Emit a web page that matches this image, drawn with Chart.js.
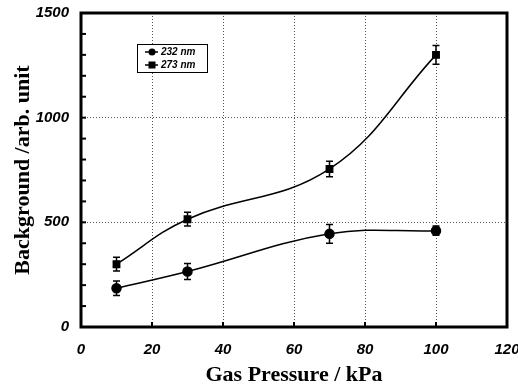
<!DOCTYPE html>
<html lang="en">
<head>
<meta charset="UTF-8">
<title>background vs gas pressure</title>
<script src="https://cdn.jsdelivr.net/npm/chart.js@4/dist/chart.umd.min.js"></script>
<style>
	body{margin:0;background:#fff;}
</style>
</head>
<body>
<canvas id="chart" width="518" height="390"></canvas>
<script>
// values
var pressure=[10,30,70,100];
var bg232=[185,265,445,460];
var err232=[35,38,45,22];
var bg273=[300,515,755,1300];
var err273=[33,33,37,45];
var seriesLabels=["232 nm","273 nm"];
var xTicks=[0,20,40,60,80,100,120];
var yTicks=[0,500,1000,1500];

function pts(ys){
	return pressure.map(function(x,i){ return {x:x,y:ys[i]}; });
}

var tickFont={family:"'Liberation Sans', Arial, sans-serif",size:15,weight:"bold",style:"italic"};
var titleFont={family:"'Liberation Serif', 'Times New Roman', serif",size:22,weight:"bold"};

var decor={
	id:"decor",
	afterDatasetsDraw:function(chart){
		var ctx=chart.ctx, xs=chart.scales.x, ys=chart.scales.y, a=chart.chartArea;
		ctx.save();
		ctx.strokeStyle="#000";
		ctx.lineWidth=1.5;
		// error bars
		[[bg232,err232],[bg273,err273]].forEach(function(s){
			pressure.forEach(function(p,i){
				var px=xs.getPixelForValue(p),
					top=ys.getPixelForValue(s[0][i]+s[1][i]),
					bot=ys.getPixelForValue(s[0][i]-s[1][i]);
				ctx.beginPath();
				ctx.moveTo(px,top);ctx.lineTo(px,bot);
				ctx.moveTo(px-3.5,top);ctx.lineTo(px+3.5,top);
				ctx.moveTo(px-3.5,bot);ctx.lineTo(px+3.5,bot);
				ctx.stroke();
			});
		});
		// inward tick marks
		ctx.lineWidth=2;
		for(var v=100;v<1500;v+=100){
			var y=ys.getPixelForValue(v);
			ctx.beginPath();ctx.moveTo(a.left,y);ctx.lineTo(a.left+5,y);ctx.stroke();
		}
		xTicks.slice(1,-1).forEach(function(v){
			var x=xs.getPixelForValue(v);
			ctx.beginPath();ctx.moveTo(x,a.bottom);ctx.lineTo(x,a.bottom-5);ctx.stroke();
		});
		// frame
		ctx.lineWidth=3;
		ctx.strokeRect(a.left,a.top,a.right-a.left,a.bottom-a.top);
		// legend box
		var lx=a.left+56, ly=a.top+31, lw=70, lh=28;
		ctx.lineWidth=1;
		ctx.fillStyle="#fff";
		ctx.fillRect(lx,ly,lw,lh);
		ctx.strokeRect(lx+0.5,ly+0.5,lw,lh);
		ctx.font="italic bold 10px 'Liberation Sans', Arial, sans-serif";
		ctx.textBaseline="middle";
		chart.data.datasets.forEach(function(ds,i){
			var yy=ly+8+i*13;
			ctx.strokeStyle="#000";ctx.fillStyle="#000";
			ctx.lineWidth=1.5;
			ctx.beginPath();ctx.moveTo(lx+8,yy);ctx.lineTo(lx+21,yy);ctx.stroke();
			if(ds.pointStyle==="rect"){
				ctx.fillRect(lx+11.5,yy-3.5,7,7);
			} else {
				ctx.beginPath();ctx.arc(lx+15,yy,3.5,0,Math.PI*2);ctx.fill();
			}
			ctx.fillText(ds.label,lx+24,yy);
		});
		ctx.restore();
	}
};

function plain(v){ return String(v); }

new Chart(document.getElementById("chart"),{
	type:"line",
	data:{
		datasets:[{
			label:seriesLabels[0],
			data:pts(bg232),
			borderColor:"#000",
			backgroundColor:"#000",
			borderWidth:1.5,
			pointStyle:"circle",
			pointRadius:4.5,
			tension:0.4
		},{
			label:seriesLabels[1],
			data:pts(bg273),
			borderColor:"#000",
			backgroundColor:"#000",
			borderWidth:1.5,
			pointStyle:"rect",
			pointRadius:4.5,
			tension:0.4
		}]
	},
	options:{
		responsive:false,
		animation:false,
		layout:{padding:{top:13,right:11,left:0,bottom:0}},
		plugins:{legend:{display:false},tooltip:{enabled:false}},
		scales:{
			x:{
				type:"linear",min:0,max:120,
				afterBuildTicks:function(s){ s.ticks=xTicks.map(function(v){return {value:v};}); },
				afterFit:function(s){ s.height=63; s.paddingLeft=0; s.paddingRight=0; },
				ticks:{font:tickFont,color:"#000",padding:14,maxRotation:0,callback:plain},
				grid:{
					drawTicks:false,
					color:function(c){ return (c.tick && c.tick.value>0 && c.tick.value<120)?"#555":"rgba(0,0,0,0)"; },
					lineWidth:1
				},
				border:{display:false,dash:[1,2]},
				title:{display:true,text:"Gas Pressure / kPa",font:titleFont,color:"#000",padding:{top:0,bottom:1}}
			},
			y:{
				min:0,max:1500,
				afterBuildTicks:function(s){ s.ticks=yTicks.map(function(v){return {value:v};}); },
				afterFit:function(s){ s.width=81; s.paddingTop=0; s.paddingBottom=0; },
				ticks:{font:tickFont,color:"#000",padding:12,callback:plain},
				grid:{
					drawTicks:false,
					color:function(c){ return (c.tick && c.tick.value>0 && c.tick.value<1500)?"#555":"rgba(0,0,0,0)"; },
					lineWidth:1
				},
				border:{display:false,dash:[1,2]},
				title:{display:true,text:"Background /arb. unit",font:titleFont,color:"#000",padding:{top:10,bottom:0}}
			}
		}
	},
	plugins:[decor]
});
</script>
</body>
</html>
